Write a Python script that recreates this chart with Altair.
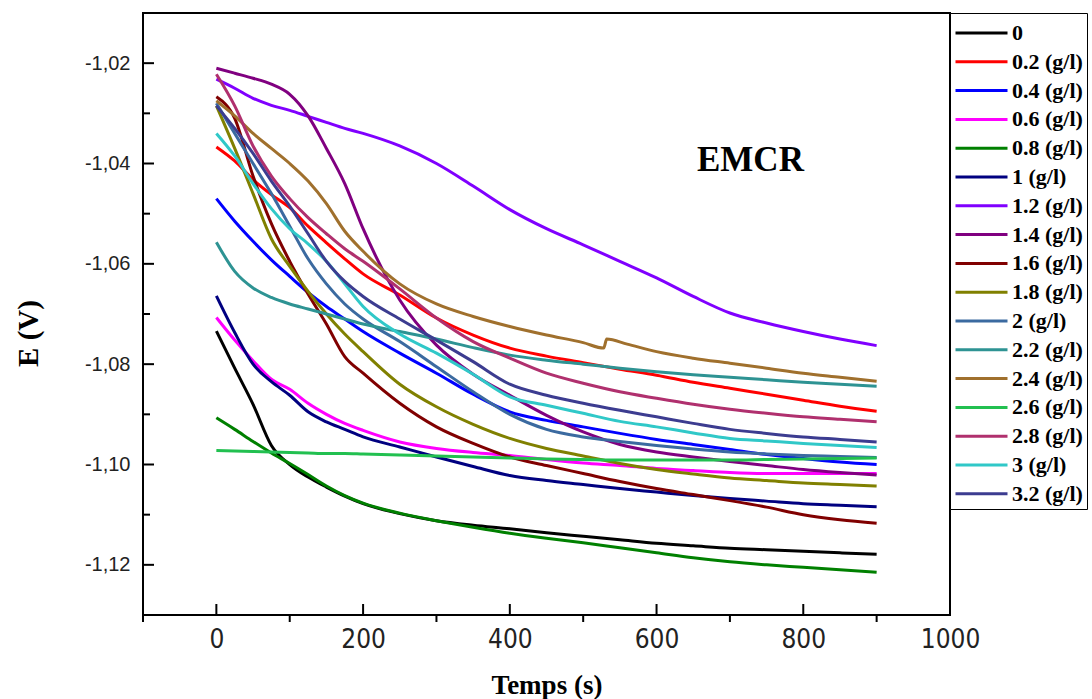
import altair as alt
import pandas as pd

# ---------------- data ----------------
T = [0, 25, 50, 75, 100, 125, 150, 175, 200, 250, 300, 350, 400, 450, 500,
     550, 600, 650, 700, 750, 800, 850, 900]

E_0 = [-1.0734, -1.0808, -1.0880, -1.0962, -1.1000, -1.1025, -1.1045, -1.1063, -1.1078, -1.1098, -1.1112, -1.1121,
       -1.1128, -1.1136, -1.1143, -1.1150, -1.1157, -1.1162, -1.1167, -1.1170, -1.1173, -1.1176, -1.1179]
E_02 = [-1.0367, -1.0395, -1.0432, -1.0462, -1.0488, -1.0525, -1.0558, -1.0590, -1.0620, -1.0662, -1.0708, -1.0742,
        -1.0768, -1.0784, -1.0797, -1.0810, -1.0822, -1.0836, -1.0848, -1.0860, -1.0872, -1.0884, -1.0894]
E_04 = [-1.0470, -1.0515, -1.0555, -1.0592, -1.0625, -1.0657, -1.0685, -1.0710, -1.0735, -1.0778, -1.0818, -1.0860,
        -1.0895, -1.0912, -1.0925, -1.0938, -1.0950, -1.0960, -1.0970, -1.0980, -1.0988, -1.0995, -1.1000]
E_06 = [-1.0707, -1.0752, -1.0793, -1.0830, -1.0850, -1.0878, -1.0900, -1.0918, -1.0932, -1.0955, -1.0968, -1.0976,
        -1.0982, -1.0990, -1.0997, -1.1002, -1.1008, -1.1012, -1.1016, -1.1018, -1.1018, -1.1018, -1.1018]
E_08 = [-1.0907, -1.0930, -1.0954, -1.0977, -1.0998, -1.1020, -1.1043, -1.1062, -1.1077, -1.1097, -1.1112, -1.1125,
        -1.1137, -1.1147, -1.1156, -1.1166, -1.1176, -1.1186, -1.1194, -1.1200, -1.1205, -1.1210, -1.1215]
E_1 = [-1.0664, -1.0737, -1.0800, -1.0835, -1.0862, -1.0895, -1.0915, -1.0930, -1.0945, -1.0965, -1.0985, -1.1004,
       -1.1022, -1.1032, -1.1040, -1.1048, -1.1055, -1.1062, -1.1068, -1.1073, -1.1078, -1.1081, -1.1084]
E_12 = [-1.0232, -1.0250, -1.0270, -1.0284, -1.0294, -1.0306, -1.0318, -1.0330, -1.0340, -1.0365, -1.0400, -1.0445,
        -1.0492, -1.0530, -1.0562, -1.0595, -1.0628, -1.0665, -1.0698, -1.0718, -1.0735, -1.0750, -1.0763]
E_14 = [-1.0210, -1.0220, -1.0230, -1.0242, -1.0262, -1.0305, -1.0370, -1.0440, -1.0530, -1.0672, -1.0762, -1.0820,
        -1.0862, -1.0902, -1.0935, -1.0960, -1.0975, -1.0985, -1.0994, -1.1002, -1.1010, -1.1016, -1.1021]
E_16 = [-1.0267, -1.0310, -1.0425, -1.0520, -1.0595, -1.0660, -1.0720, -1.0785, -1.0818, -1.0878, -1.0925, -1.0958,
        -1.0985, -1.1002, -1.1018, -1.1034, -1.1048, -1.1060, -1.1072, -1.1085, -1.1100, -1.1110, -1.1117]
E_18 = [-1.0285, -1.0370, -1.0460, -1.0550, -1.0605, -1.0655, -1.0700, -1.0740, -1.0775, -1.0840, -1.0885, -1.0920,
        -1.0948, -1.0968, -1.0983, -1.0998, -1.1010, -1.1019, -1.1027, -1.1032, -1.1037, -1.1040, -1.1043]
E_2 = [-1.0280, -1.0340, -1.0400, -1.0460, -1.0525, -1.0590, -1.0640, -1.0680, -1.0710, -1.0755, -1.0805, -1.0855,
       -1.0900, -1.0930, -1.0945, -1.0954, -1.0962, -1.0969, -1.0975, -1.0979, -1.0982, -1.0984, -1.0986]
E_22 = [-1.0557, -1.0615, -1.0648, -1.0667, -1.0680, -1.0690, -1.0700, -1.0710, -1.0720, -1.0735, -1.0750, -1.0767,
        -1.0782, -1.0792, -1.0800, -1.0808, -1.0815, -1.0821, -1.0826, -1.0831, -1.0836, -1.0840, -1.0844]
T_24 = [0, 25, 50, 75, 100, 125, 150, 175, 200, 250, 300, 350, 400, 450, 500, 528, 532, 560,
        600, 650, 700, 750, 800, 850, 900]
E_24 = [-1.0275, -1.0305, -1.0340, -1.0370, -1.0400, -1.0435, -1.0480, -1.0535, -1.0575, -1.0640, -1.0680, -1.0705,
        -1.0725, -1.0742, -1.0757, -1.0768, -1.0750, -1.0760, -1.0775, -1.0788, -1.0798, -1.0808, -1.0818, -1.0826,
        -1.0834]
E_26 = [-1.0972, -1.0973, -1.0974, -1.0975, -1.0976, -1.0977, -1.0978, -1.0978, -1.0979, -1.0981, -1.0983, -1.0985,
        -1.0987, -1.0989, -1.0990, -1.0991, -1.0991, -1.0991, -1.0991, -1.0990, -1.0989, -1.0988, -1.0987]
E_28 = [-1.0222, -1.0285, -1.0365, -1.0425, -1.0470, -1.0508, -1.0540, -1.0570, -1.0595, -1.0650, -1.0708, -1.0755,
        -1.0788, -1.0818, -1.0838, -1.0855, -1.0868, -1.0880, -1.0890, -1.0898, -1.0905, -1.0910, -1.0915]
E_3 = [-1.0340, -1.0385, -1.0440, -1.0490, -1.0530, -1.0560, -1.0595, -1.0640, -1.0685, -1.0740, -1.0778, -1.0820,
       -1.0865, -1.0882, -1.0898, -1.0914, -1.0925, -1.0937, -1.0948, -1.0953, -1.0958, -1.0962, -1.0966]
E_32 = [-1.0285, -1.0330, -1.0380, -1.0435, -1.0485, -1.0540, -1.0595, -1.0635, -1.0665, -1.0710, -1.0752, -1.0795,
        -1.0840, -1.0862, -1.0878, -1.0892, -1.0905, -1.0918, -1.0930, -1.0938, -1.0945, -1.0950, -1.0955]

NAMES = ["0", "0.2 (g/l)", "0.4 (g/l)", "0.6 (g/l)", "0.8 (g/l)", "1 (g/l)", "1.2 (g/l)",
         "1.4 (g/l)", "1.6 (g/l)", "1.8 (g/l)", "2 (g/l)", "2.2 (g/l)", "2.4 (g/l)",
         "2.6 (g/l)", "2.8 (g/l)", "3 (g/l)", "3.2 (g/l)"]
COLORS = ["#000000", "#ff0000", "#0000ff", "#ff00ff", "#008000", "#000080", "#8000ff",
          "#800080", "#800000", "#808000", "#3b6aa0", "#2e9393", "#a0702d",
          "#22c050", "#b0306e", "#30c8c8", "#3c3c90"]
SERIES = [T, T, T, T, T, T, T, T, T, T, T, T, T_24, T, T, T, T]
VALUES = [E_0, E_02, E_04, E_06, E_08, E_1, E_12, E_14, E_16, E_18, E_2, E_22, E_24,
          E_26, E_28, E_3, E_32]

X_MAJOR = [0, 200, 400, 600, 800, 1000]
X_MINOR = [-100, 100, 300, 500, 700, 900]
Y_MAJOR = [-1.12, -1.10, -1.08, -1.06, -1.04, -1.02]
Y_MINOR = [-1.11, -1.09, -1.07, -1.05, -1.03]
X_DOMAIN = [-100, 1000]
Y_DOMAIN = [-1.13, -1.01]
ANNOT_T = [728]
ANNOT_E = [-1.0394]
ANNOT_TXT = ["EMCR"]

# ---------------- build ----------------
rows = []
for name, ts, es in zip(NAMES, SERIES, VALUES):
    for t, e in zip(ts, es):
        rows.append({"t": t, "E": e, "serie": name})
df = pd.DataFrame(rows)

W, H = 807, 602
xs = alt.Scale(domain=X_DOMAIN, nice=False, zero=False)
ys = alt.Scale(domain=Y_DOMAIN, nice=False, zero=False)

x_axis = alt.Axis(
    values=X_MAJOR, format="d", title="Temps (s)", ticks=False, domain=False, grid=False,
    labelFont="Liberation Sans Narrow, DejaVu Sans Condensed, Liberation Sans",
    labelFontSize=26, labelColor="#222222", labelPadding=11, labelFlush=False,
    labelOverlap=False,
    titleFont="Liberation Serif", titleFontWeight="bold", titleFontSize=27,
    titleColor="black", titleX=403.5, titleY=70, titleBaseline="middle")
y_axis = alt.Axis(
    values=Y_MAJOR, title="E (V)", ticks=False, domain=False, grid=False,
    labelExpr="'-' + replace(format(-datum.value, '.2f'), '.', ',')",
    labelFont="Liberation Sans", labelFontSize=20, labelColor="#222222",
    labelPadding=13, labelOverlap=False,
    titleFont="Liberation Serif", titleFontWeight="bold", titleFontSize=29,
    titleColor="black", titleX=-115, titleY=320, titleBaseline="middle")

lines = alt.Chart(df).mark_line(strokeWidth=3, interpolate="monotone").encode(
    x=alt.X("t:Q", scale=xs, axis=x_axis),
    y=alt.Y("E:Q", scale=ys, axis=y_axis),
    color=alt.Color("serie:N", scale=alt.Scale(domain=NAMES, range=COLORS), legend=alt.Legend(
        title=" ", titleFontSize=1, titlePadding=4,
        orient="none", legendX=W, legendY=0, symbolType="stroke",
        symbolSize=2704, symbolStrokeWidth=3, symbolOpacity=1,
        labelFont="Liberation Serif", labelFontWeight="bold", labelFontSize=22,
        labelColor="black", labelOffset=3, labelLimit=300,
        strokeColor="black", fillColor="white", padding=4, clipHeight=22,
        rowPadding=6.8)),
)

# tick marks drawn from the tick-value lists (same field names -> shared scales/axes)
y_major = alt.Chart(pd.DataFrame({"E": Y_MAJOR})).mark_rule(color="black", strokeWidth=2).encode(
    y=alt.Y("E:Q", scale=ys, axis=y_axis), x=alt.value(0), x2=alt.value(11))
y_minor = alt.Chart(pd.DataFrame({"E": Y_MINOR})).mark_rule(color="black", strokeWidth=2).encode(
    y=alt.Y("E:Q", scale=ys, axis=y_axis), x=alt.value(0), x2=alt.value(7))
x_major = alt.Chart(pd.DataFrame({"t": X_MAJOR})).mark_rule(color="black", strokeWidth=2).encode(
    x=alt.X("t:Q", scale=xs, axis=x_axis), y=alt.value(H - 11), y2=alt.value(H))
x_minor = alt.Chart(pd.DataFrame({"t": X_MINOR})).mark_rule(color="black", strokeWidth=2).encode(
    x=alt.X("t:Q", scale=xs, axis=x_axis), y=alt.value(H), y2=alt.value(H + 7))

annot = alt.Chart(pd.DataFrame({"t": ANNOT_T, "E": ANNOT_E, "txt": ANNOT_TXT})).mark_text(
    font="Liberation Serif", fontWeight="bold", fontSize=35, color="black",
    align="center", baseline="middle").encode(
    x=alt.X("t:Q", scale=xs, axis=x_axis), y=alt.Y("E:Q", scale=ys, axis=y_axis), text="txt:N")

chart = alt.layer(lines, y_major, y_minor, x_major, x_minor, annot).properties(
    width=W, height=H,
    autosize=alt.AutoSizeParams(type="none"),
    padding={"left": 143, "top": 13, "right": 142, "bottom": 84},
    background="white",
).configure_view(stroke="black", strokeWidth=2)

chart.save("out.html", embed_options={"renderer": "svg", "actions": False})
